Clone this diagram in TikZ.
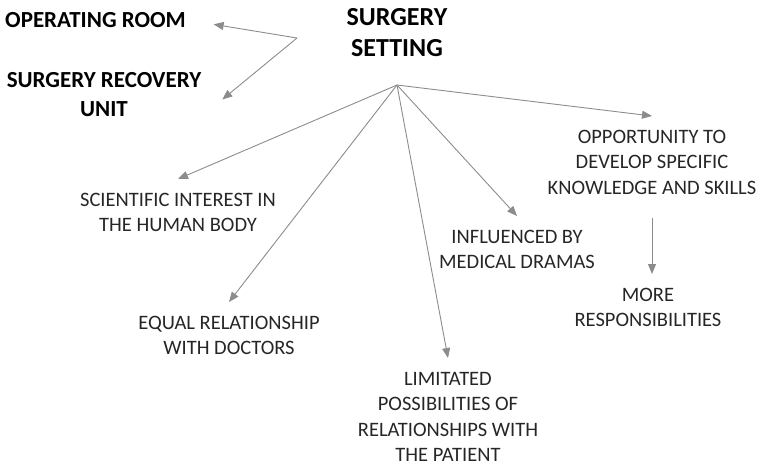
\documentclass[tikz,border=0pt]{standalone}
\usepackage{fontspec}
\setmainfont{Carlito}
\usetikzlibrary{arrows.meta}
\begin{document}
\begin{tikzpicture}[x=1pt,y=-1pt,
	title/.style={font=\bfseries\fontsize{26}{31}\selectfont, align=center, inner sep=0pt, anchor=north},
	place/.style={font=\bfseries\fontsize{23}{29}\selectfont, align=center, inner sep=0pt, anchor=north},
	item/.style={font=\fontsize{20.5}{25.5}\selectfont, align=center, inner sep=0pt, outer ysep=14pt, anchor=north, text=black!85},
	arr/.style={->, draw=black!45, line width=0.9pt},
	>={Triangle[length=10pt,width=8pt]}]
	\useasboundingbox (0,0) rectangle (762,467);
	
	%Nodes
	\node[title]	(ss)	at (397,8) {SURGERY\\SETTING};
	\node[place]	(or)	at (95.5,12) {OPERATING ROOM};
	\node[place]	(sru)	at (104,72) {SURGERY RECOVERY\\UNIT};
	\node[item]	(sci)	at (178,193-14) {SCIENTIFIC INTEREST IN\\THE HUMAN BODY};
	\node[item]	(eq)	at (229,316-14) {EQUAL RELATIONSHIP\\WITH DOCTORS};
	\node[item]	(lim)	at (448,372-14) {LIMITATED\\POSSIBILITIES OF\\RELATIONSHIPS WITH\\THE PATIENT};
	\node[item]	(inf)	at (517,230-14) {INFLUENCED BY\\MEDICAL DRAMAS};
	\node[item]	(opp)	at (652,130-14) {OPPORTUNITY TO\\DEVELOP SPECIFIC\\KNOWLEDGE AND SKILLS};
	\node[item]	(more)	at (648,288-14) {MORE\\RESPONSIBILITIES};
	\coordinate	(hub)	at (397,85);
	\coordinate	(fork)	at (297,38);
	
	%Lines
	\draw[arr, shorten >=28pt] (fork) -- (or.east);
	\draw[arr, shorten >=27pt] (fork) -- (sru.south east);
	\draw[arr] (hub) -- (sci.north);
	\draw[arr] (hub) -- (eq.north);
	\draw[arr] (hub) -- (lim.north);
	\draw[arr] (hub) -- (inf.north);
	\draw[arr] (hub) -- (opp.north);
	\draw[arr, shorten <=10pt] (opp.south) -- (opp.south |- more.north);
\end{tikzpicture}
\end{document}
